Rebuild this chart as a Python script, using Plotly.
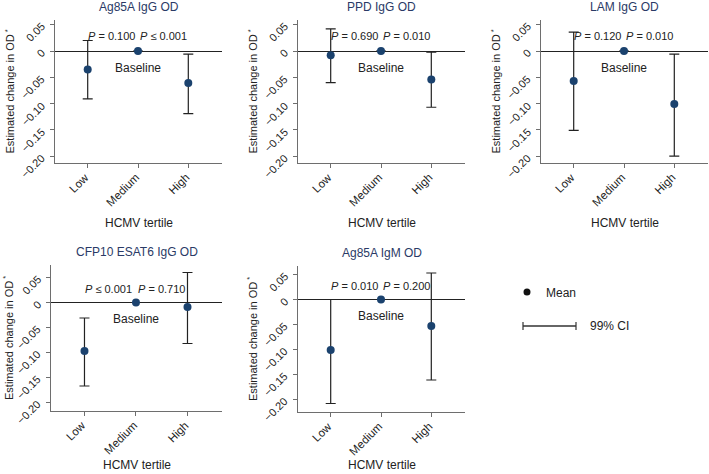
import plotly.graph_objects as go

# data
categories = ["Low", "Medium", "High"]
panel_titles = ["Ag85A IgG OD", "PPD IgG OD", "LAM IgG OD", "CFP10 ESAT6 IgG OD", "Ag85A IgM OD"]

mean_values = [
    [-0.035, 0.0, -0.061],
    [-0.008, 0.0, -0.054],
    [-0.057, 0.0, -0.101],
    [-0.097, 0.0, -0.009],
    [-0.101, 0.0, -0.053],
]
ci_upper = [
    [0.020, 0.0, -0.006],
    [0.042, 0.0, -0.002],
    [0.036, 0.0, -0.006],
    [-0.031, 0.0, 0.060],
    [0.000, 0.0, 0.053],
]
ci_lower = [
    [-0.091, 0.0, -0.119],
    [-0.060, 0.0, -0.107],
    [-0.151, 0.0, -0.200],
    [-0.167, 0.0, -0.082],
    [-0.208, 0.0, -0.161],
]
p_low_vs_medium = ["= 0.100", "= 0.690", "= 0.120", "≤ 0.001", "= 0.010"]
p_high_vs_medium = ["≤ 0.001", "= 0.010", "= 0.010", "= 0.710", "= 0.200"]

y_tickvals = [0.05, 0, -0.05, -0.10, -0.15, -0.20]
y_ticktext = ["0.05", "0", "\u22120.05", "\u22120.10", "\u22120.15", "\u22120.20"]

W, H = 709, 474
FONT = "Liberation Sans, Arial, sans-serif"
MARKER = "#1b426e"
TITLE_COL = "#2a3a66"
AXIS_COL = "#6e6e6e"
TXT = "#222222"

# plot boxes in pixels: left, right, top, bottom
boxes = [
    (55, 222, 20, 163),
    (298, 465, 20, 163),
    (541, 708, 20, 163),
    (51, 222, 265, 411),
    (298, 465, 266, 412),
]
y_ranges = [
    [-0.213, 0.059],
    [-0.213, 0.059],
    [-0.213, 0.059],
    [-0.217, 0.075],
    [-0.225, 0.067],
]

fig = go.Figure()
annotations = []
layout = {}

for i in range(5):
    n = "" if i == 0 else str(i + 1)
    xa, ya = "x" + n, "y" + n
    l, r, t, b = boxes[i]

    err_plus = [u - m for u, m in zip(ci_upper[i], mean_values[i])]
    err_minus = [m - lo for m, lo in zip(mean_values[i], ci_lower[i])]

    fig.add_trace(go.Scatter(
        x=[1, 2, 3],
        y=mean_values[i],
        mode="markers",
        marker=dict(color=MARKER, size=8),
        error_y=dict(type="data", symmetric=False, array=err_plus, arrayminus=err_minus,
                     color=TXT, thickness=1.2, width=5),
        xaxis=xa, yaxis=ya,
        showlegend=False,
    ))

    layout["xaxis" + n] = dict(
        domain=[l / W, r / W], anchor=ya, range=[0.35, 3.67],
        tickvals=[1, 2, 3], showticklabels=False,
        showline=True, linecolor=AXIS_COL, linewidth=1,
        ticks="outside", ticklen=4, tickcolor=AXIS_COL,
        showgrid=False, zeroline=False,
    )
    layout["yaxis" + n] = dict(
        domain=[1 - b / H, 1 - t / H], anchor=xa, range=y_ranges[i],
        tickvals=y_tickvals, showticklabels=False,
        showline=True, linecolor=AXIS_COL, linewidth=1,
        ticks="outside", ticklen=4, tickcolor=AXIS_COL,
        showgrid=False, zeroline=True, zerolinecolor=TXT, zerolinewidth=1.2,
    )

    # rotated tick labels (end of text sits at the tick, like the original)
    for k, cat in enumerate(categories):
        annotations.append(dict(text=cat, xref=xa, yref=ya + " domain", x=k + 1, y=0,
                                xanchor="right", yanchor="top", xshift=6, yshift=-5,
                                textangle=-45, showarrow=False,
                                font=dict(size=11.5, color=TXT)))
    for v, lab in zip(y_tickvals, y_ticktext):
        annotations.append(dict(text=lab, xref=xa + " domain", yref=ya, x=0, y=v,
                                xanchor="right", yanchor="top", xshift=-5, yshift=7,
                                textangle=-45, showarrow=False,
                                font=dict(size=11, color=TXT)))

    # panel title
    annotations.append(dict(text=panel_titles[i], xref=xa + " domain", yref="paper",
                            x=0.5, y=1 - (t - 13) / H, xanchor="center", yanchor="middle",
                            showarrow=False, font=dict(size=12, color=TITLE_COL)))
    # axis titles
    annotations.append(dict(text="HCMV tertile", xref=xa + " domain", yref="paper",
                            x=0.5, y=1 - min(b + 60, H - 9) / H, xanchor="center", yanchor="middle",
                            showarrow=False, font=dict(size=12, color=TXT)))
    annotations.append(dict(text="Estimated change in OD<sup> *</sup>", xref="paper",
                            yref=ya + " domain", x=max(l - 46, 8) / W, y=0.5,
                            xanchor="center", yanchor="middle",
                            textangle=-90, showarrow=False,
                            font=dict(size=11, color=TXT)))
    # p-values and baseline
    annotations.append(dict(text="<i>P</i> " + p_low_vs_medium[i], xref=xa, yref=ya,
                            x=1.47, y=0.028, xanchor="center", yanchor="middle",
                            showarrow=False, font=dict(size=11, color=TXT)))
    annotations.append(dict(text="<i>P</i> " + p_high_vs_medium[i], xref=xa, yref=ya,
                            x=2.5, y=0.028, xanchor="center", yanchor="middle",
                            showarrow=False, font=dict(size=11, color=TXT)))
    annotations.append(dict(text="Baseline", xref=xa, yref=ya,
                            x=2, y=-0.033, xanchor="center", yanchor="middle",
                            showarrow=False, font=dict(size=12, color=TXT)))

# key
annotations.append(dict(text="Mean", xref="paper", yref="paper", x=544 / W, y=1 - 293 / H,
                        xanchor="left", yanchor="middle", showarrow=False,
                        font=dict(size=12, color=TXT)))
annotations.append(dict(text="99% CI", xref="paper", yref="paper", x=588 / W, y=1 - 326 / H,
                        xanchor="left", yanchor="middle", showarrow=False,
                        font=dict(size=12, color=TXT)))
shapes = [
    dict(type="circle", xref="paper", yref="paper", x0=523.5 / W, x1=530.5 / W,
         y0=1 - 295.5 / H, y1=1 - 288.5 / H, fillcolor="#111111", line=dict(width=0)),
    dict(type="line", xref="paper", yref="paper", x0=523 / W, x1=576 / W,
         y0=1 - 326 / H, y1=1 - 326 / H, line=dict(color="#333333", width=1.5)),
    dict(type="line", xref="paper", yref="paper", x0=523 / W, x1=523 / W,
         y0=1 - 322 / H, y1=1 - 330 / H, line=dict(color="#333333", width=1.2)),
    dict(type="line", xref="paper", yref="paper", x0=576 / W, x1=576 / W,
         y0=1 - 322 / H, y1=1 - 330 / H, line=dict(color="#333333", width=1.2)),
]

fig.update_layout(
    **layout,
    width=W, height=H,
    margin=dict(l=0, r=0, t=0, b=0),
    paper_bgcolor="white", plot_bgcolor="white",
    font=dict(family=FONT, color=TXT),
    annotations=annotations,
    shapes=shapes,
)

# the page's default 8px body margin would push the figure off by 8px
fig.write_html("out.html", config={"displayModeBar": False},
               post_script="document.body.style.margin = '0';")
